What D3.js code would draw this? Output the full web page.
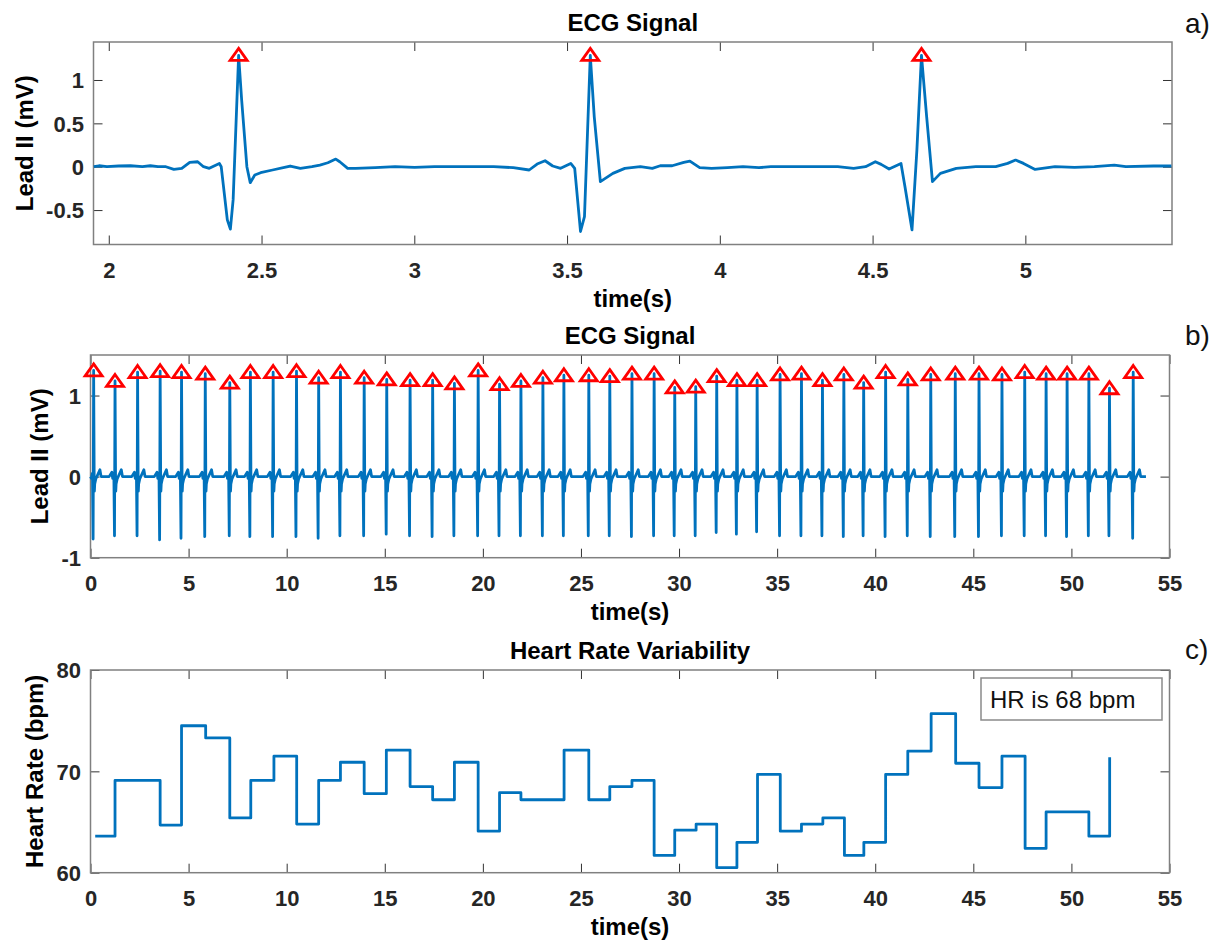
<!DOCTYPE html>
<html>
<head>
<meta charset="utf-8">
<script src="https://d3js.org/d3.v7.min.js"></script>
<style>
    body { margin: 0; background: #fff; }
    svg { display: block; background: #fff; }
    text { font-family: "Liberation Sans", Arial, sans-serif; }
    .tick text { font-size: 22px; font-weight: bold; fill: #262626; }
    .tick line { stroke: #333; stroke-width: 1px; }
    .title, .axis-label { font-size: 24px; font-weight: bold; fill: #000; }
    .panel-tag { font-size: 28px; fill: #111; }
    .ecg { fill: none; stroke: #0072bd; stroke-width: 2.8px; stroke-linejoin: round; }
    .peak { fill: none; stroke: #ff0000; stroke-width: 2.8px; }
    .frame { fill: none; stroke: #808080; stroke-width: 1.5px; }
    .legend-box { fill: #fff; stroke: #8a8a8a; stroke-width: 1.5px; }
    .legend-text { font-size: 24px; fill: #111; }
</style>
</head>
<body>
<svg id="fig" width="1221" height="946"></svg>
<script>
// ---- data ----

// a) zoomed ECG trace, 1.95 - 5.48 s
const aTime = [1.951, 1.968, 1.994, 2.032, 2.071, 2.110, 2.136, 2.161, 2.187, 2.213, 2.239, 2.265, 2.291, 2.310, 2.329,
    2.362, 2.368, 2.388, 2.398, 2.407, 2.425, 2.435, 2.452, 2.463, 2.478, 2.497, 2.536, 2.575, 2.594, 2.627, 2.665,
    2.691, 2.717, 2.743, 2.756, 2.782, 2.808, 2.872, 2.937, 3.001, 3.066, 3.130, 3.195, 3.260, 3.324, 3.376, 3.402,
    3.428, 3.453, 3.479, 3.512, 3.525, 3.544, 3.557, 3.576, 3.589, 3.609, 3.650, 3.689, 3.740, 3.779, 3.805, 3.844,
    3.882, 3.902, 3.934, 3.973, 4.025, 4.076, 4.128, 4.167, 4.231, 4.283, 4.335, 4.386, 4.438, 4.477, 4.509, 4.528,
    4.554, 4.593, 4.606, 4.629, 4.645, 4.660, 4.677, 4.696, 4.722, 4.774, 4.838, 4.903, 4.942, 4.968, 4.994, 5.032,
    5.097, 5.161, 5.226, 5.291, 5.329, 5.420, 5.478];
const aLead = [0, 0.011, 0, 0.008, 0.011, 0, 0.011, 0, 0, -0.031, -0.019, 0.050, 0.057, 0, -0.019,
    0.038, 0, -0.613, -0.720, -0.383, 1.283, 0.766, 0, -0.184, -0.096, -0.069, -0.038, -0.008, 0.008, -0.019, 0,
    0.019, 0.046, 0.088, 0.057, -0.019, -0.019, -0.011, 0, -0.008, 0, 0, 0, 0, -0.011, -0.038, 0.031,
    0.069, 0.008, -0.019, 0.038, -0.019, -0.747, -0.575, 1.283, 0.575, -0.172, -0.077, -0.019, 0, -0.019, 0.011, 0.011,
    0.050, 0.065, -0.011, -0.019, -0.011, 0, -0.011, 0, 0, 0, 0, 0, -0.019, 0, 0.057, 0.027,
    -0.027, 0.038, -0.230, -0.728, 0.192, 1.283, 0.575, -0.172, -0.077, -0.019, 0, 0, 0.038, 0.077, 0.038, -0.031,
    0, -0.008, 0, 0.019, 0, 0.008, 0.008];
const aPeakTime = [2.425, 3.576, 4.660];
const aPeakValue = [1.29, 1.29, 1.29];

// b) full recording: R-peak times, R amplitudes and Q/S trough depths per beat
const bBeatTime = [0.16, 1.25, 2.40, 3.55, 4.64, 5.85, 7.10, 8.15, 9.31, 10.50, 11.63, 12.74, 13.95, 15.10, 16.29,
    17.44, 18.55, 19.76, 20.85, 21.94, 23.06, 24.13, 25.40, 26.47, 27.60, 28.73, 29.78, 30.85, 31.92, 32.95, 33.98,
    35.15, 36.24, 37.31, 38.40, 39.41, 40.53, 41.66, 42.83, 44.08, 45.29, 46.46, 47.62, 48.71, 49.78, 50.89, 51.94, 53.15];
const bPeak = [1.31, 1.18, 1.29, 1.30, 1.29, 1.27, 1.16, 1.29, 1.29, 1.30, 1.22, 1.29, 1.22, 1.20, 1.19,
    1.19, 1.15, 1.31, 1.14, 1.18, 1.22, 1.25, 1.25, 1.24, 1.27, 1.27, 1.10, 1.11, 1.24, 1.19, 1.19,
    1.26, 1.27, 1.19, 1.26, 1.16, 1.29, 1.20, 1.26, 1.27, 1.27, 1.26, 1.29, 1.27, 1.27, 1.27, 1.09, 1.29];
const bTrough = [-0.77, -0.73, -0.73, -0.78, -0.76, -0.74, -0.73, -0.74, -0.74, -0.74, -0.76, -0.73, -0.73, -0.71, -0.73,
    -0.74, -0.73, -0.73, -0.73, -0.73, -0.73, -0.73, -0.73, -0.73, -0.74, -0.73, -0.73, -0.73, -0.69, -0.71, -0.68,
    -0.73, -0.73, -0.73, -0.74, -0.73, -0.74, -0.73, -0.74, -0.74, -0.74, -0.73, -0.73, -0.73, -0.74, -0.73, -0.73, -0.76];
const bSpan = [0, 53.8];
// one heartbeat as seen in panel a (seconds from the R peak)
const beatOffset = [-0.30, -0.16, -0.12, -0.065, -0.058, -0.027, 0, 0.027, 0.038, 0.055, 0.11, 0.32, 0.38];
const beatShape = [0, 0.055, -0.02, 0.04, 0, "trough", "peak", 0, -0.18, -0.09, -0.03, 0.085, 0];

// c) heart rate steps
const cTime = [0.24, 1.25, 2.40, 3.55, 4.64, 5.87, 7.10, 8.17, 9.35, 10.51, 11.63, 12.74, 13.95, 15.08, 16.29, 17.44,
    18.55, 19.76, 20.85, 21.94, 23.06, 24.14, 25.40, 26.47, 27.60, 28.73, 29.78, 30.87, 31.92, 32.95, 34.00, 35.16,
    36.24, 37.33, 38.43, 39.42, 40.53, 41.66, 42.85, 44.10, 45.29, 46.46, 47.64, 48.71, 49.78, 50.89, 51.95];
const cRate = [63.6, 69.1, 69.1, 64.7, 74.5, 73.3, 65.4, 69.1, 71.5, 64.8, 69.1, 70.9, 67.8, 72.1, 68.5, 67.2,
    70.9, 64.1, 67.9, 67.2, 67.2, 72.1, 67.2, 68.5, 69.1, 61.7, 64.2, 64.8, 60.5, 63.0, 69.7, 64.1,
    64.8, 65.4, 61.7, 63.0, 69.7, 72.0, 75.7, 70.8, 68.4, 71.5, 62.4, 66.0, 66.0, 63.6, 71.4];
const cLegend = "HR is 68 bpm";

// ---- drawing ----
const svg = d3.select("svg#fig");
const fmt = d => String(d);
const tickLen = 9;

function drawPanel(p) {
    const x = d3.scaleLinear().domain(p.xDomain).range([p.left, p.right]);
    const y = d3.scaleLinear().domain(p.yDomain).range([p.bottom, p.top]);
    const g = svg.append("g");

    const bottomAxis = g.append("g")
        .attr("transform", "translate(0," + p.bottom + ")")
        .call(d3.axisBottom(x).tickValues(p.xTicks).tickSize(-tickLen).tickFormat(fmt));
    bottomAxis.selectAll("text").attr("y", 33).attr("dy", null);

    g.append("g").attr("transform", "translate(0," + p.top + ")")
        .call(d3.axisTop(x).tickValues(p.xTicks).tickSize(-tickLen).tickFormat(""));

    const leftAxis = g.append("g")
        .attr("transform", "translate(" + p.left + ",0)")
        .call(d3.axisLeft(y).tickValues(p.yTicks).tickSize(-tickLen).tickPadding(9).tickFormat(fmt));
    leftAxis.selectAll("text").attr("x", -9.5).attr("dy", "0.36em");

    g.append("g").attr("transform", "translate(" + p.right + ",0)")
        .call(d3.axisRight(y).tickValues(p.yTicks).tickSize(-tickLen).tickFormat(""));

    g.selectAll(".domain").remove();

    g.append("rect")
        .attr("class", "frame")
        .attr("x", p.left).attr("y", p.top)
        .attr("width", p.right - p.left).attr("height", p.bottom - p.top);

    const cx = (p.left + p.right) / 2;
    g.append("text").attr("class", "title")
        .attr("x", cx).attr("y", p.top - 11)
        .attr("text-anchor", "middle").text(p.title);
    g.append("text").attr("class", "axis-label")
        .attr("x", cx).attr("y", p.bottom + 62)
        .attr("text-anchor", "middle").text("time(s)");

    // y label sits just left of the widest tick label
    const bb = leftAxis.node().getBBox();
    const lx = p.left + bb.x - 13.5;
    g.append("text").attr("class", "axis-label")
        .attr("transform", "translate(" + lx + "," + ((p.top + p.bottom) / 2) + ") rotate(-90)")
        .attr("text-anchor", "middle").text(p.yLabel);

    g.append("text").attr("class", "panel-tag")
        .attr("x", 1185).attr("y", p.tagY).text(p.tag);

    const plot = g.append("g");
    return { x, y, plot };
}

const tri = "M0,-6.5L8.5,5.5L-8.5,5.5Z";

// a)
const A = drawPanel({
    left: 93.5, right: 1172, top: 42, bottom: 244.5,
    xDomain: [1.95, 5.48], yDomain: [-0.897, 1.438],
    xTicks: [2, 2.5, 3, 3.5, 4, 4.5, 5], yTicks: [-0.5, 0, 0.5, 1],
    title: "ECG Signal", yLabel: "Lead II (mV)", tag: "a)", tagY: 33
});
A.plot.append("path")
    .datum(aTime.map((t, i) => [t, aLead[i]]))
    .attr("class", "ecg")
    .attr("d", d3.line().x(d => A.x(d[0])).y(d => A.y(d[1])));
A.plot.selectAll("path.peak").data(aPeakTime.map((t, i) => [t, aPeakValue[i]]))
    .join("path")
    .attr("class", "peak")
    .attr("transform", d => "translate(" + A.x(d[0]) + "," + A.y(d[1]) + ")")
    .attr("d", tri);

// b)
const B = drawPanel({
    left: 90.5, right: 1169.5, top: 355, bottom: 557.7,
    xDomain: [0, 55], yDomain: [-1, 1.5],
    xTicks: d3.range(0, 56, 5), yTicks: [-1, 0, 1],
    title: "ECG Signal", yLabel: "Lead II (mV)", tag: "b)", tagY: 345
});
const bTrace = [[bSpan[0], 0]];
bBeatTime.forEach((t, i) => {
    beatOffset.forEach((o, j) => {
        const s = beatShape[j];
        const v = s === "peak" ? bPeak[i] : s === "trough" ? bTrough[i] : s;
        if (t + o > bSpan[0] && t + o < bSpan[1]) bTrace.push([t + o, v]);
    });
});
bTrace.push([bSpan[1], 0]);
B.plot.append("path")
    .datum(bTrace)
    .attr("class", "ecg")
    .attr("d", d3.line().x(d => B.x(d[0])).y(d => B.y(d[1])));
B.plot.selectAll("path.peak").data(bBeatTime.map((t, i) => [t, bPeak[i]]))
    .join("path")
    .attr("class", "peak")
    .attr("transform", d => "translate(" + B.x(d[0]) + "," + B.y(d[1]) + ")")
    .attr("d", tri);

// c)
const C = drawPanel({
    left: 90.5, right: 1169.5, top: 670, bottom: 872.7,
    xDomain: [0, 55], yDomain: [60, 80],
    xTicks: d3.range(0, 56, 5), yTicks: [60, 70, 80],
    title: "Heart Rate Variability", yLabel: "Heart Rate (bpm)", tag: "c)", tagY: 659
});
C.plot.append("path")
    .datum(cTime.map((t, i) => [t, cRate[i]]))
    .attr("class", "ecg")
    .attr("d", d3.line().curve(d3.curveStepAfter).x(d => C.x(d[0])).y(d => C.y(d[1])));

const legend = C.plot.append("g").attr("transform", "translate(981,678)");
legend.append("rect").attr("class", "legend-box").attr("width", 181).attr("height", 42);
legend.append("text").attr("class", "legend-text").attr("x", 9).attr("y", 30).text(cLegend);
</script>
</body>
</html>
